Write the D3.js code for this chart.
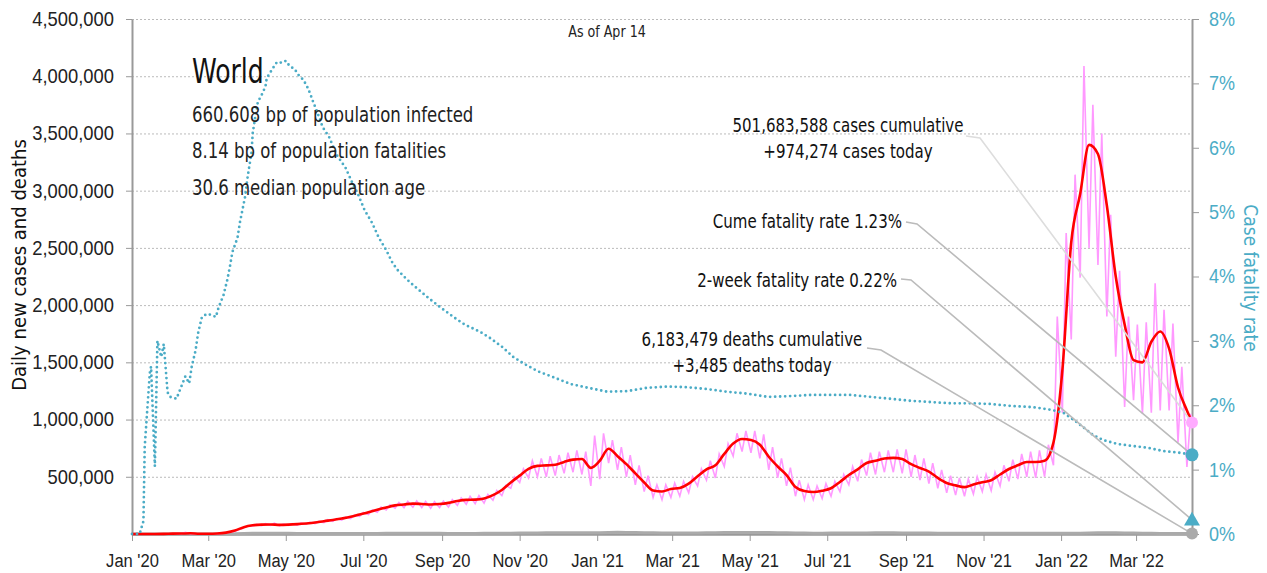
<!DOCTYPE html>
<html>
<head>
<meta charset="utf-8">
<script src="https://cdn.jsdelivr.net/npm/d3@7.9.0/dist/d3.min.js"></script>
<style>
  body { margin: 0; background: #fff; }
  svg { display: block; font-family: "DejaVu Sans Condensed", "Liberation Sans Narrow", "Roboto", sans-serif; }
  .grid line { stroke: #bbb; stroke-dasharray: 2 2; }
  .grid .domain { display: none; }
  .axis path, .axis line { stroke: #999; }
  .axis text { fill: #222; }
  .axis-right text { fill: #4bacc6; }
</style>
</head>
<body>
<svg id="chart" width="1267" height="573"></svg>
<script>
// weekly samples, thousands of cases, week i starts on weekStart + 7*i days
const weekStart = '2020-01-05';
const lastDay = '2022-04-14';

const casesAvg = [0,0.1,0.1,1,3,4,6,2,2,4,
  12,30,60,76,82,83,80,82,86,92,
  100,112,122,135,150,170,190,212,232,250,
  258,265,262,258,262,272,288,298,300,310,
  340,385,450,510,570,595,600,605,630,650,
  655,578,640,745,680,610,530,450,380,372,
  393,402,440,505,565,600,700,790,830,822,
  780,675,590,515,410,375,367,378,400,455,
  515,565,620,640,660,665,655,610,577,545,
  490,446,425,410,432,452,470,520,568,600,
  629,629,640,800,1430,2550,2970,3400,3320,2870,
  2250,1830,1520,1500,1680,1770,1620,1280,1080];

// daily cases: low on the Sunday, high on the Wednesday of each week
const casesLow = [0,0,0.1,0.7,2.6,2.5,2,0.5,1.8,3.5,
  10,25,57,70,72,76,72,75,78,85,
  90,100,110,122,135,155,170,190,210,225,
  230,235,230,225,230,235,250,260,265,270,
  295,335,400,450,490,500,500,510,530,540,
  520,420,480,620,560,500,430,370,320,300,
  320,330,360,420,470,490,590,680,720,710,
  660,560,490,420,330,300,300,310,330,370,
  430,460,510,520,540,540,530,500,470,440,
  400,360,340,330,350,370,380,420,460,480,
  500,490,500,600,1060,1700,2240,2500,2350,1900,
  1550,1110,1170,1050,1060,1080,1080,800,585];
const casesHigh = [0,0.1,0.3,1.5,3.8,15,4,2,2.6,5,
  16,38,68,85,90,95,86,90,95,102,
  110,125,135,148,165,188,210,235,255,275,
  285,290,285,282,288,300,315,330,335,345,
  380,425,500,570,640,660,680,690,710,730,
  720,860,880,820,760,690,600,510,430,430,
  445,460,500,570,640,700,790,880,900,900,
  870,760,660,580,470,430,420,440,460,520,
  590,650,710,720,730,740,740,690,660,620,
  560,510,490,480,500,520,540,600,650,700,
  720,730,780,1900,2630,3140,4090,3750,3500,2790,
  2300,1900,1830,1850,2190,1960,1840,1460,1050];

const deathsAvg = [0,0,0,0.03,0.06,0.1,0.12,0.08,0.06,0.1,
  0.4,1.5,3.5,5.5,6.8,7.2,6.3,5.6,5.2,4.6,
  4.3,4.3,4.4,4.6,4.6,4.8,5.0,5.3,5.6,5.7,
  5.9,5.8,5.7,5.6,5.5,5.4,5.4,5.3,5.3,5.5,
  5.6,6.0,6.6,7.8,9.0,9.8,10.5,11.0,11.4,11.6,
  11.5,10.5,12.0,13.5,14.4,14.0,13.2,11.5,10.0,9.0,
  8.5,8.8,9.2,9.8,10.6,11.3,12.2,12.9,13.6,13.8,
  13.5,12.3,11.5,10.6,9.0,8.0,7.6,7.6,7.8,8.0,
  8.6,9.1,9.8,10.1,10.2,10.2,9.8,9.2,8.5,8.0,
  7.4,7.0,6.8,6.9,7.0,7.0,7.1,7.0,6.9,6.8,
  6.9,6.9,6.5,6.3,6.6,6.8,7.6,8.4,10.0,10.8,
  10.5,9.5,8.5,7.0,6.0,5.2,4.7,4.2,3.7];

// case fatality rate (%), day counted from Jan 1 2020
const cfrDay = [0,6,9,10,14,15,18,20,23,25,28,30,35,39,42,45,47,50,52,55,
  59,63,66,68,72,75,77,79,83,85,89,91,94,95,97,99,102,105,106,111,
  114,118,121,124,128,131,135,138,140,142,146,150,155,161,168,173,178,183,189,194,
  200,205,209,216,221,233,242,253,262,274,282,291,300,308,319,331,345,359,374,390,
  405,421,437,453,468,484,500,516,534,549,565,581,597,612,628,644,660,675,691,709,
  723,733,741,749,756,764,775,786,799,811,825,834];
const cfrPct = [0,0,0.2,1.35,2.5,2.6,1.05,3.0,2.75,2.95,2.2,2.13,2.1,2.3,2.45,2.34,2.6,2.85,3.12,3.37,
  3.42,3.4,3.37,3.51,3.71,3.95,4.15,4.38,4.6,4.85,5.24,5.55,5.92,6.23,6.48,6.71,6.82,6.95,7.08,7.24,
  7.33,7.32,7.35,7.27,7.22,7.13,7.05,6.94,6.85,6.74,6.54,6.32,6.17,5.89,5.69,5.47,5.27,5.03,4.83,4.61,
  4.41,4.21,4.1,3.96,3.87,3.67,3.53,3.37,3.25,3.14,3.04,2.91,2.75,2.65,2.53,2.44,2.33,2.27,2.21,2.22,
  2.27,2.29,2.28,2.25,2.21,2.18,2.13,2.14,2.16,2.16,2.16,2.13,2.10,2.07,2.05,2.03,2.03,2.02,1.99,1.97,
  1.93,1.88,1.77,1.65,1.54,1.46,1.40,1.37,1.34,1.29,1.26,1.23];

const casesCumulative = 501683588;
const casesToday = 974274;
const avgToday = 980000;
const deathsCumulative = 6183479;
const deathsToday = 3485;
const cumeFatality = 1.23;
const twoWeekFatality = 0.22;

const leftTicks = [500000, 1000000, 1500000, 2000000, 2500000, 3000000, 3500000, 4000000, 4500000];
const rightTicks = [0, 0.01, 0.02, 0.03, 0.04, 0.05, 0.06, 0.07, 0.08];
const infoLines = ['660.608 bp of population infected', '8.14 bp of population fatalities', '30.6 median population age'];

const parse = d3.timeParse('%Y-%m-%d');
const t0 = parse('2020-01-01');
const tStart = parse(weekStart);
const tEnd = parse(lastDay);
const weekDate = (i) => d3.timeDay.offset(tStart, 7 * i);

const x = d3.scaleTime().domain([t0, tEnd]).range([132, 1192]);
const y = d3.scaleLinear().domain([0, 4500000]).range([534, 19]);
const yR = d3.scaleLinear().domain([0, 0.08]).range([534, 19]);

// the installed condensed face is wider than the original one
function squeeze(sel, k, origin) {
    sel.style('transform-box', 'fill-box')
        .style('transform-origin', origin)
        .style('transform', `scaleX(${k})`);
}

let avgPts = [[t0, 0]];
casesAvg.forEach((v, i) => avgPts.push([weekDate(i), v * 1000]));
avgPts.push([tEnd, avgToday]);

let dailyPts = [[t0, 0]];
casesLow.forEach((v, i) => {
    dailyPts.push([weekDate(i), v * 1000]);
    dailyPts.push([d3.timeDay.offset(weekDate(i), 3), casesHigh[i] * 1000]);
});
dailyPts.push([tEnd, casesToday]);

let deathPts = [[t0, 0]];
deathsAvg.forEach((v, i) => deathPts.push([weekDate(i), v * 1000]));
deathPts.push([tEnd, deathsToday]);

let cfrPts = cfrDay.map((d, i) => [d3.timeDay.offset(t0, d), cfrPct[i] / 100]);

const svg = d3.select('#chart');

// grid
svg.append('g')
    .attr('class', 'grid')
    .attr('transform', 'translate(132,0)')
    .call(d3.axisLeft(y).tickValues(leftTicks).tickSize(-1060).tickFormat(''));

// axes
svg.append('g')
    .attr('class', 'axis')
    .attr('transform', 'translate(132,0)')
    .call(d3.axisLeft(y).tickValues(leftTicks).tickSize(6).tickPadding(12).tickSizeOuter(0).tickFormat(d3.format(',')))
    .call(g => g.selectAll('text').attr('font-size', 20).call(squeeze, 0.92, 'right center'))
    .call(g => g.select('.domain').attr('stroke-width', 2));

svg.append('g')
    .attr('class', 'axis axis-right')
    .attr('transform', 'translate(1192,0)')
    .call(d3.axisRight(yR).tickValues(rightTicks).tickSize(7).tickPadding(10).tickSizeOuter(0).tickFormat(d3.format('.0%')))
    .call(g => g.selectAll('text').attr('font-size', 20).call(squeeze, 0.9, 'left center'))
    .call(g => g.select('.domain').attr('stroke-width', 2));

svg.append('g')
    .attr('class', 'axis')
    .attr('transform', 'translate(0,534)')
    .call(d3.axisBottom(x).ticks(d3.timeMonth.every(2)).tickSize(7).tickPadding(13).tickSizeOuter(0).tickFormat(d3.timeFormat("%b '%y")))
    .call(g => g.selectAll('text').attr('font-size', 19).call(squeeze, 0.87, 'center'))
    .call(g => g.select('.domain').attr('stroke-width', 2.5));

const line = d3.line().x(d => x(d[0])).y(d => y(d[1]));
const lineR = d3.line().x(d => x(d[0])).y(d => yR(d[1]));

svg.append('path').datum(deathPts)
    .attr('fill', 'none').attr('stroke', '#aaa').attr('stroke-width', 3)
    .attr('d', line);

svg.append('path').datum(dailyPts)
    .attr('fill', 'none').attr('stroke', '#ff99ff').attr('stroke-width', 1.6)
    .attr('d', line);

svg.append('path').datum(avgPts)
    .attr('fill', 'none').attr('stroke', '#ff0000').attr('stroke-width', 2.6)
    .attr('d', line.curve(d3.curveMonotoneX));

svg.append('path').datum(cfrPts)
    .attr('fill', 'none').attr('stroke', '#4bacc6').attr('stroke-width', 2.8)
    .attr('stroke-linecap', 'round').attr('stroke-dasharray', '0 5')
    .attr('d', lineR);

// annotations
const xe = x(tEnd);
const notes = [
    { lines: [`${d3.format(',')(casesCumulative)} cases cumulative`, `+${d3.format(',')(casesToday)} cases today`],
      tx: 848, ty: 132, anchor: 'middle', from: [966, 136], elbow: [980, 138], to: [xe, y(casesToday)], color: '#ddd' },
    { lines: [`Cume fatality rate ${cumeFatality}%`],
      tx: 902, ty: 228, anchor: 'end', from: [906, 222], elbow: [917, 224], to: [xe, yR(cumeFatality / 100)], color: '#bbb' },
    { lines: [`2-week fatality rate ${twoWeekFatality}%`],
      tx: 897, ty: 287, anchor: 'end', from: [901, 279], elbow: [911, 280], to: [xe, yR(twoWeekFatality / 100)], color: '#bbb' },
    { lines: [`${d3.format(',')(deathsCumulative)} deaths cumulative`, `+${d3.format(',')(deathsToday)} deaths today`],
      tx: 752, ty: 346, anchor: 'middle', from: [867, 348], elbow: [881, 350], to: [xe, y(deathsToday)], color: '#bbb' },
];

notes.forEach(n => {
    svg.append('polyline')
        .attr('points', [n.from, n.elbow, n.to].map(p => p.join(',')).join(' '))
        .attr('fill', 'none').attr('stroke', n.color).attr('stroke-width', 1.6);
    let t = svg.append('text')
        .attr('x', n.tx).attr('y', n.ty)
        .attr('text-anchor', n.anchor)
        .attr('font-size', 19).attr('fill', '#111')
        .call(squeeze, 0.88, n.anchor === 'end' ? 'right center' : 'center');
    n.lines.forEach((l, i) => {
        t.append('tspan').attr('x', n.tx).attr('dy', i === 0 ? 0 : 26).text(l);
    });
});

// end markers
svg.append('circle').attr('cx', xe).attr('cy', y(casesToday)).attr('r', 6).attr('fill', '#ffaaff');
svg.append('circle').attr('cx', xe).attr('cy', yR(cumeFatality / 100)).attr('r', 6.5).attr('fill', '#4bacc6');
svg.append('path')
    .attr('d', d3.symbol(d3.symbolTriangle, 110)())
    .attr('transform', `translate(${xe},${yR(twoWeekFatality / 100) + 1})`)
    .attr('fill', '#4bacc6');
svg.append('circle').attr('cx', xe).attr('cy', y(deathsToday)).attr('r', 6).attr('fill', '#aaa');

// headline texts
svg.append('text').attr('x', 192).attr('y', 83).attr('font-size', 34).attr('fill', '#111')
    .text('World').call(squeeze, 0.82, 'left center');
infoLines.forEach((l, i) => {
    svg.append('text').attr('x', 192).attr('y', 122 + i * 36.5).attr('font-size', 21).attr('fill', '#222')
        .text(l).call(squeeze, 0.875, 'left center');
});
svg.append('text').attr('x', 607).attr('y', 37).attr('text-anchor', 'middle')
    .attr('font-size', 16).attr('fill', '#222').text('As of Apr 14').call(squeeze, 0.88, 'center');

// axis titles
svg.append('g').attr('transform', 'translate(26,265) rotate(-90)')
    .append('text')
    .attr('text-anchor', 'middle').attr('font-size', 20).attr('fill', '#111')
    .text('Daily new cases and deaths');
svg.append('g').attr('transform', 'translate(1244,278) rotate(90)')
    .append('text')
    .attr('text-anchor', 'middle').attr('font-size', 19).attr('fill', '#4bacc6')
    .text('Case fatality rate');
</script>
</body>
</html>
